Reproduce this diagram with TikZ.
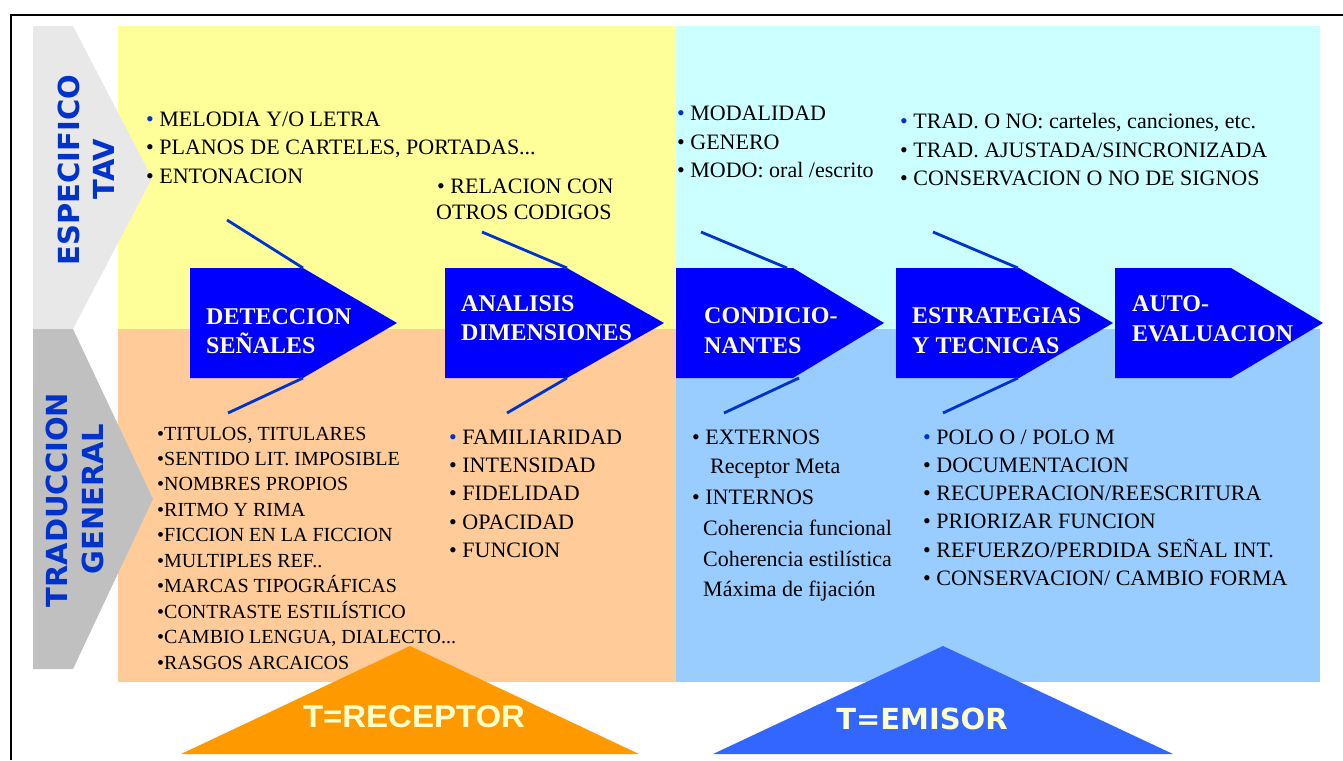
\documentclass[tikz,border=0pt]{standalone}
\usepackage{fontspec}
\setmainfont{Liberation Serif}
\newfontfamily\vsans{DejaVu Sans}
\newfontfamily\lsans{Liberation Sans}
\definecolor{yellowbg}{HTML}{FFFF99}
\definecolor{peachbg}{HTML}{FFCC99}
\definecolor{cyanbg}{HTML}{CCFFFF}
\definecolor{lbluebg}{HTML}{99CCFF}
\definecolor{grayA}{HTML}{E8E8E8}
\definecolor{grayB}{HTML}{C0C0C0}
\definecolor{arrowblue}{HTML}{0000FF}
\definecolor{fishblue}{HTML}{0033CC}
\definecolor{labelyellow}{HTML}{FFFFCC}
\definecolor{sideblue}{HTML}{0033CC}
\definecolor{triorange}{HTML}{FF9900}
\definecolor{triblue}{HTML}{3366FF}
\newcommand\bbul{{\color{fishblue}•}}
\begin{document}
\begin{tikzpicture}[x=1pt,y=-1pt,
  txt/.style={anchor=base west,inner sep=0pt,font=\fontsize{22}{26}\selectfont},
  stxt/.style={anchor=base west,inner sep=0pt,font=\fontsize{20}{24}\selectfont},
  albl/.style={anchor=base west,inner sep=0pt,text=labelyellow,font=\bfseries\fontsize{24}{29}\selectfont},
  side/.style={rotate=90,inner sep=0pt,text=sideblue,font=\vsans\bfseries\fontsize{29}{29}\selectfont,text height=21pt,text depth=0pt},
  fish/.style={draw=fishblue,line width=2.8pt},
  arrowbox/.style={fill=arrowblue},
  trilbl/.style={inner sep=0pt,text=labelyellow}]
\useasboundingbox (0,0) rectangle (1343,760);
% backgrounds
\fill[yellowbg] (118,26) rectangle (676,329);
\fill[peachbg] (118,329) rectangle (676,682);
\fill[cyanbg] (676,26) rectangle (1320,329);
\fill[lbluebg] (676,329) rectangle (1320,682);
% frame
\draw[line width=2pt] (11,760) -- (11,15) -- (1343,15);
% side chevrons
\fill[grayA] (33,26) -- (73,26) -- (152,178) -- (73,329) -- (33,329) -- cycle;
\fill[grayB] (33,329) -- (73,329) -- (153,499) -- (73,669) -- (33,669) -- cycle;
\node[side] (espec) at (69,170) {ESPECIFICO};
\node[side] (tav) at (104,169) {TAV};
\node[side] (trad) at (57,500) {TRADUCCION};
\node[side] (gen) at (93,499) {GENERAL};
% bottom triangles
\fill[triorange] (181,754) -- (410,646) -- (639,754) -- cycle;
\fill[triblue] (713,754) -- (943,646) -- (1173,754) -- cycle;
\node[trilbl] (trec) at (414,717) {\lsans\bfseries\resizebox{222pt}{22pt}{T=RECEPTOR}};
\node[trilbl,font=\vsans\bfseries\fontsize{29}{29}\selectfont,text height=21pt,text depth=0pt] (temi) at (922,718.5) {T=EMISOR};
% process arrows
\fill[arrowbox] (190,268) -- (303,268) -- (397,323) -- (303,378) -- (190,378) -- cycle;
\fill[arrowbox] (445,268) -- (567,268) -- (664,323) -- (567,378) -- (445,378) -- cycle;
\fill[arrowbox] (676,268) -- (793,268) -- (884,323) -- (793,378) -- (676,378) -- cycle;
\fill[arrowbox] (896,268) -- (1019,268) -- (1113,323) -- (1019,378) -- (896,378) -- cycle;
\fill[arrowbox] (1115,268) -- (1231,268) -- (1323,323) -- (1231,378) -- (1115,378) -- cycle;
\coordinate (a1t) at (303,268); \coordinate (a1b) at (303,378);
\coordinate (a2t) at (567,268); \coordinate (a2b) at (567,378);
\coordinate (a3t) at (787,268); \coordinate (a3b) at (799,378);
\coordinate (a4t) at (1018,268); \coordinate (a4b) at (1018,378);
\coordinate (f1t) at (227,220); \coordinate (f1b) at (228,413);
\coordinate (f2t) at (482,232); \coordinate (f2b) at (507,413);
\coordinate (f3t) at (701,232); \coordinate (f3b) at (724,413);
\coordinate (f4t) at (933,232); \coordinate (f4b) at (943,413);
\draw[fish] (f1t) -- (a1t); \draw[fish] (a1b) -- (f1b);
\draw[fish] (f2t) -- (a2t); \draw[fish] (a2b) -- (f2b);
\draw[fish] (f3t) -- (a3t); \draw[fish] (a3b) -- (f3b);
\draw[fish] (f4t) -- (a4t); \draw[fish] (a4b) -- (f4b);
% arrow labels
\node[albl] (l1a) at (206,324) {DETECCION};
\node[albl] (l1b) at (206,353) {SEÑALES};
\node[albl] (l2a) at (461,311) {ANALISIS};
\node[albl] (l2b) at (461,340) {DIMENSIONES};
\node[albl] (l3a) at (704,323) {CONDICIO-};
\node[albl] (l3b) at (704,353) {NANTES};
\node[albl] (l4a) at (912,323) {ESTRATEGIAS};
\node[albl] (l4b) at (912,353) {Y TECNICAS};
\node[albl] (l5a) at (1132,311) {AUTO-};
\node[albl] (l5b) at (1132,341) {EVALUACION};
% yellow top-left
\node[txt] (y1) at (146,126) {\bbul\ MELODIA Y/O LETRA};
\node[txt] (y2) at (146,154.5) {• PLANOS DE CARTELES, PORTADAS...};
\node[txt] (y3) at (146,183) {• ENTONACION};
\node[txt] (y4) at (437,193.3) {• RELACION CON};
\node[txt] (y5) at (436,219) {OTROS CODIGOS};
% cyan
\node[txt] (c1) at (677,120) {\bbul\ MODALIDAD};
\node[txt] (c2) at (677,149) {• GENERO};
\node[txt] (c3) at (677,177) {• MODO: oral /escrito};
\node[txt] (c4) at (900,128) {\bbul\ TRAD. O NO: carteles, canciones, etc.};
\node[txt] (c5) at (900,157) {• TRAD. AJUSTADA/SINCRONIZADA};
\node[txt] (c6) at (900,185) {• CONSERVACION O NO DE SIGNOS};
% peach left
\node[stxt] (p1) at (157,440) {•TITULOS, TITULARES};
\node[stxt] (p2) at (157,465.4) {•SENTIDO LIT. IMPOSIBLE};
\node[stxt] (p3) at (157,490.9) {•NOMBRES PROPIOS};
\node[stxt] (p4) at (157,516.3) {•RITMO Y RIMA};
\node[stxt] (p5) at (157,541.8) {•FICCION EN LA FICCION};
\node[stxt] (p6) at (157,567.2) {•MULTIPLES REF..};
\node[stxt] (p7) at (157,592.6) {•MARCAS TIPOGRÁFICAS};
\node[stxt] (p8) at (157,618.1) {•CONTRASTE ESTILÍSTICO};
\node[stxt] (p9) at (157,643.5) {•CAMBIO LENGUA, DIALECTO...};
\node[stxt] (p10) at (157,669) {•RASGOS ARCAICOS};
% peach right
\node[txt] (q1) at (449,444) {\bbul\ FAMILIARIDAD};
\node[txt] (q2) at (449,472.4) {• INTENSIDAD};
\node[txt] (q3) at (449,500.8) {• FIDELIDAD};
\node[txt] (q4) at (449,529.2) {• OPACIDAD};
\node[txt] (q5) at (449,557.6) {• FUNCION};
% light blue left
\node[txt] (b1) at (692,444) {• EXTERNOS};
\node[txt] (b2) at (710,473) {Receptor Meta};
\node[txt] (b3) at (692,504) {• INTERNOS};
\node[txt] (b4) at (703,535) {Coherencia funcional};
\node[txt] (b5) at (703,566) {Coherencia estilística};
\node[txt] (b6) at (703,596) {Máxima de fijación};
% light blue right
\node[txt] (r1) at (923,444) {\bbul\ POLO O / POLO M};
\node[txt] (r2) at (923,472.3) {• DOCUMENTACION};
\node[txt] (r3) at (923,500.6) {• RECUPERACION/REESCRITURA};
\node[txt] (r4) at (923,528.9) {• PRIORIZAR FUNCION};
\node[txt] (r5) at (923,557.2) {• REFUERZO/PERDIDA SEÑAL INT.};
\node[txt] (r6) at (923,585.5) {• CONSERVACION/ CAMBIO FORMA};
\end{tikzpicture}
\end{document}
